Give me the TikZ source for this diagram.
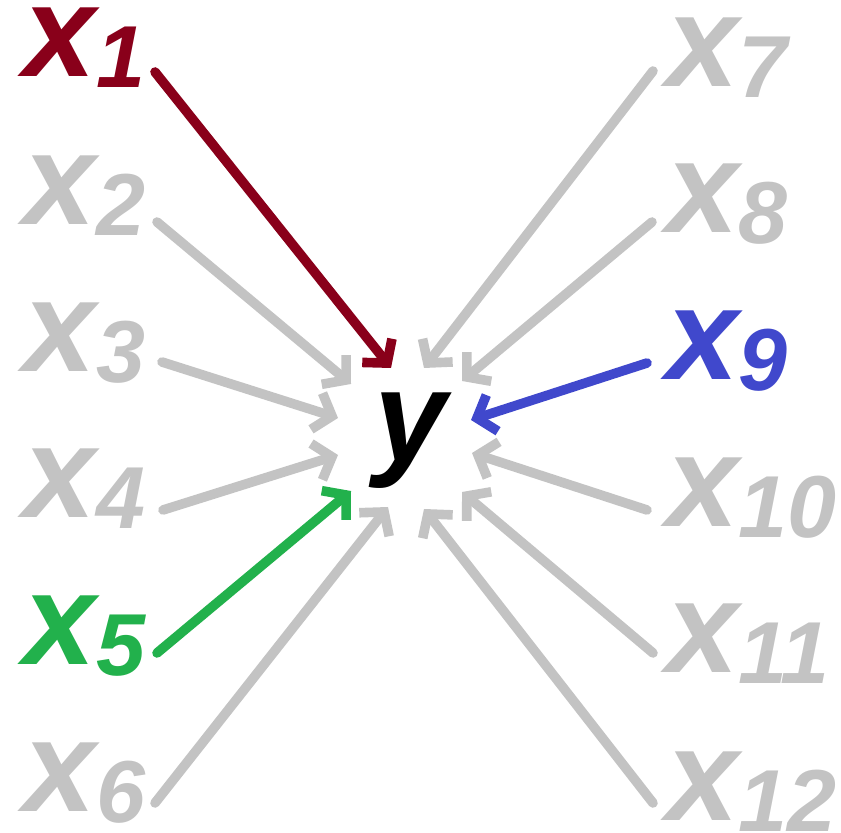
\documentclass[tikz,border=0pt]{standalone}
\usepackage{fontspec}
\setmainfont{Liberation Sans}
\usetikzlibrary{arrows.meta}
\definecolor{cred}{RGB}{137,0,26}
\definecolor{cgray}{RGB}{195,195,195}
\definecolor{cblue}{RGB}{64,72,204}
\definecolor{cgreen}{RGB}{34,177,76}
\newcommand{\xlab}[1]{{\fontsize{65pt}{70pt}\selectfont\bfseries\itshape x}\raisebox{-5.5pt}{\fontsize{44pt}{48pt}\selectfont\bfseries\itshape #1}}
\tikzset{
  lab/.style={anchor=base west, inner sep=0pt, outer sep=0pt},
  arr/.style={line width=4.8pt, line cap=round, -{Straight Barb[length=8pt,width=19pt,line cap=butt,line join=miter]}},
}
\begin{document}
\begin{tikzpicture}[x=0.5pt,y=-0.5pt]
\useasboundingbox (0,0) rectangle (841,833);
% labels
\node[lab, text=cred]  (x1)  at (24,77)  {\xlab{1}};
\node[lab, text=cgray] (x2)  at (24,225) {\xlab{2}};
\node[lab, text=cgray] (x3)  at (24,372) {\xlab{3}};
\node[lab, text=cgray] (x4)  at (24,518) {\xlab{4}};
\node[lab, text=cgreen](x5)  at (24,665) {\xlab{5}};
\node[lab, text=cgray] (x6)  at (24,812) {\xlab{6}};
\node[lab, text=cgray] (x7)  at (666,87)  {\xlab{7}};
\node[lab, text=cgray] (x8)  at (666,233) {\xlab{8}};
\node[lab, text=cblue] (x9)  at (666,380) {\xlab{9}};
\node[lab, text=cgray] (x10) at (666,527) {\xlab{10}};
\node[lab, text=cgray] (x11) at (666,673) {\xlab{11}};
\node[lab, text=cgray] (x12) at (666,820) {\xlab{12}};
\node[anchor=base, inner sep=0pt] (y) at (411,462) {\fontsize{65pt}{70pt}\selectfont\bfseries\itshape y};
% arrow end points
\coordinate (s1) at (155,72);   \coordinate (t1) at (391,368);
\coordinate (s2) at (157,222);  \coordinate (t2) at (351,384);
\coordinate (s3) at (162,362);  \coordinate (t3) at (338,418);
\coordinate (s4) at (163,510);  \coordinate (t4) at (338,455);
\coordinate (s5) at (157,653);  \coordinate (t5) at (351,491);
\coordinate (s6) at (155,803);  \coordinate (t6) at (388,507);
\coordinate (s7) at (653,71);   \coordinate (t7) at (424,368);
\coordinate (s8) at (652,222);  \coordinate (t8) at (462,381);
\coordinate (s9) at (647,363);  \coordinate (t9) at (471,420);
\coordinate (s10) at (647,510); \coordinate (t10) at (472,453);
\coordinate (s11) at (653,653); \coordinate (t11) at (462,492);
\coordinate (s12) at (653,803); \coordinate (t12) at (424,509);
% gray arrows
\foreach \i in {2,3,4,6,7,8,10,11,12}{
  \draw[arr, cgray] (s\i) -- (t\i);
}
\draw[arr, cred]   (s1) -- (t1);
\draw[arr, cgreen] (s5) -- (t5);
\draw[arr, cblue]  (s9) -- (t9);
\end{tikzpicture}
\end{document}
